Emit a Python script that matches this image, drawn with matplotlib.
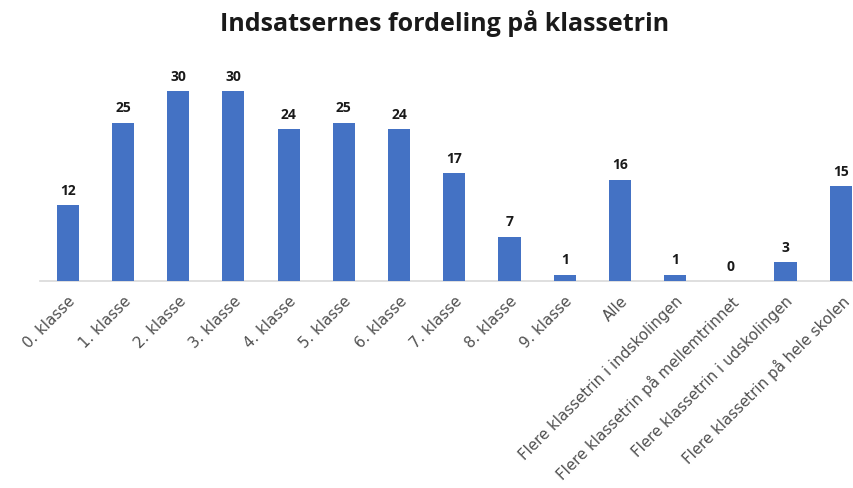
import matplotlib
matplotlib.use("Agg")
import matplotlib.pyplot as plt

categories = [
    "0. klasse", "1. klasse", "2. klasse", "3. klasse", "4. klasse",
    "5. klasse", "6. klasse", "7. klasse", "8. klasse", "9. klasse",
    "Alle", "Flere klassetrin i indskolingen", "Flere klassetrin på mellemtrinnet",
    "Flere klassetrin i udskolingen", "Flere klassetrin på hele skolen",
]
values = [12, 25, 30, 30, 24, 25, 24, 17, 7, 1, 16, 1, 0, 3, 15]

BLUE = "#4472C4"
TEXT = "#1A1A1A"
TICK = "#505050"
AXIS = "#D9D9D9"

plt.rcParams["font.family"] = ["Open Sans", "DejaVu Sans"]

fig = plt.figure(figsize=(8.54, 4.89), dpi=100)
ax = fig.add_axes([0.047, 0.423, 0.953, 0.454])

x = list(range(len(categories)))
ax.bar(x, values, width=0.4, color=BLUE, zorder=3)
for xi, v in zip(x, values):
    ax.annotate(str(v), xy=(xi, v), xytext=(0, 6), textcoords="offset points",
                ha="center", va="bottom", fontsize=10, fontweight="bold", color=TEXT)

ax.set_xlim(-0.5, 14.24)
ax.set_ylim(0, 35)
ax.set_yticks([])
ax.set_xticks(x)
ax.set_xticklabels(categories, rotation=45, ha="right", rotation_mode="anchor",
                   fontsize=10.8, color=TICK, family=["DejaVu Sans"])
ax.tick_params(axis="x", length=0, pad=8)

for s in ("top", "right", "left"):
    ax.spines[s].set_visible(False)
ax.spines["bottom"].set_color(AXIS)
ax.spines["bottom"].set_linewidth(1.2)

fig.text(0.52, 0.952, "Indsatsernes fordeling på klassetrin", ha="center", va="center",
         fontsize=18, fontweight="bold", color=TEXT)

fig.savefig("out.png", dpi=100, facecolor="white")
